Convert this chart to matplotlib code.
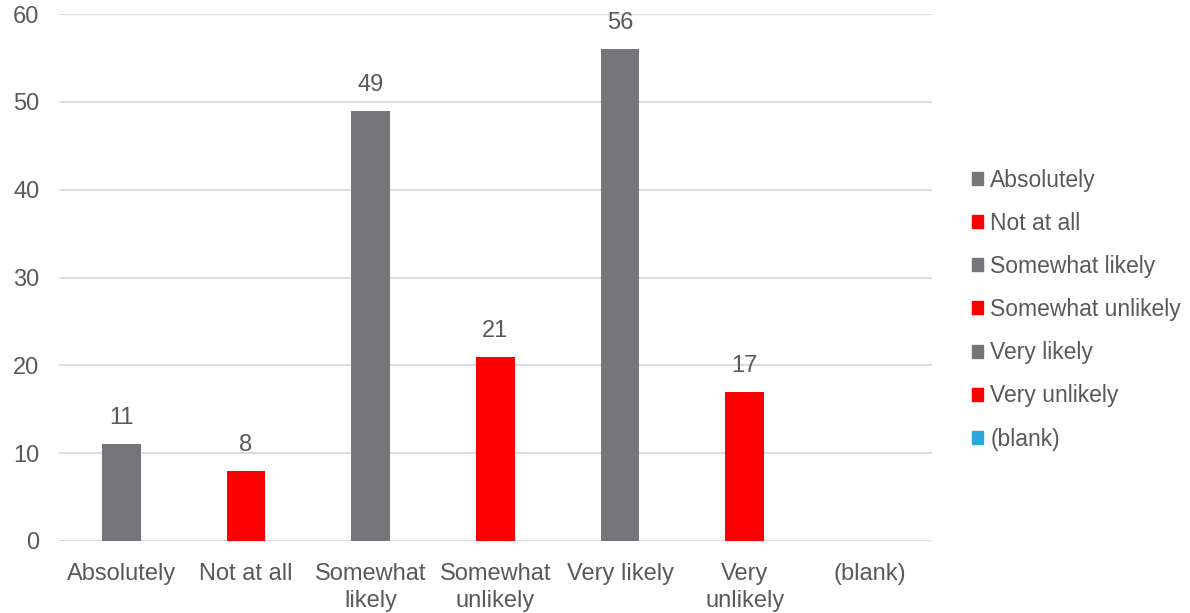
import matplotlib.pyplot as plt
from matplotlib.patches import Patch

categories = ['Absolutely', 'Not at all', 'Somewhat\nlikely', 'Somewhat\nunlikely',
              'Very likely', 'Very\nunlikely', '(blank)']
legend_labels = ['Absolutely', 'Not at all', 'Somewhat likely', 'Somewhat unlikely',
                 'Very likely', 'Very unlikely', '(blank)']
values = [11, 8, 49, 21, 56, 17, None]
colors = ['#76767A', '#FF0000', '#76767A', '#FF0000', '#76767A', '#FF0000', '#29A8E0']

plt.rcParams['font.family'] = ['Liberation Sans', 'DejaVu Sans']
text_color = '#595959'
fs = 17

fig = plt.figure(figsize=(11.9, 6.13), dpi=100)
ax = fig.add_axes([0.0496, 0.1175, 0.7334, 0.8595])

x = list(range(len(categories)))
for i, v in enumerate(values):
    if v is None:
        continue
    ax.bar(i, v, width=0.31, color=colors[i], zorder=3)
    ax.text(i, v + 1.7, str(v), ha='center', va='bottom', fontsize=fs, color=text_color)

ax.set_xlim(-0.5, len(categories) - 0.5)
ax.set_ylim(0, 60)
ax.set_yticks(range(0, 61, 10))
ax.set_xticks(x)
ax.set_xticklabels(categories, fontsize=fs, color=text_color, linespacing=1.3)
ax.tick_params(axis='y', labelsize=fs, labelcolor=text_color, length=0, pad=14)
ax.tick_params(axis='x', length=0, pad=16)
ax.grid(axis='y', color='#D9D9D9', linewidth=1.3, zorder=0)
for s in ax.spines.values():
    s.set_visible(False)

handles = [Patch(color=c, label=l) for c, l in zip(colors, legend_labels)]
fig.legend(handles=handles, loc='center left', bbox_to_anchor=(0.809, 0.495),
           frameon=False, fontsize=16.5, labelcolor=text_color, borderaxespad=0,
           handlelength=0.5, handleheight=0.5, handletextpad=0.3, labelspacing=0.88)

fig.savefig('out.png', dpi=100)
